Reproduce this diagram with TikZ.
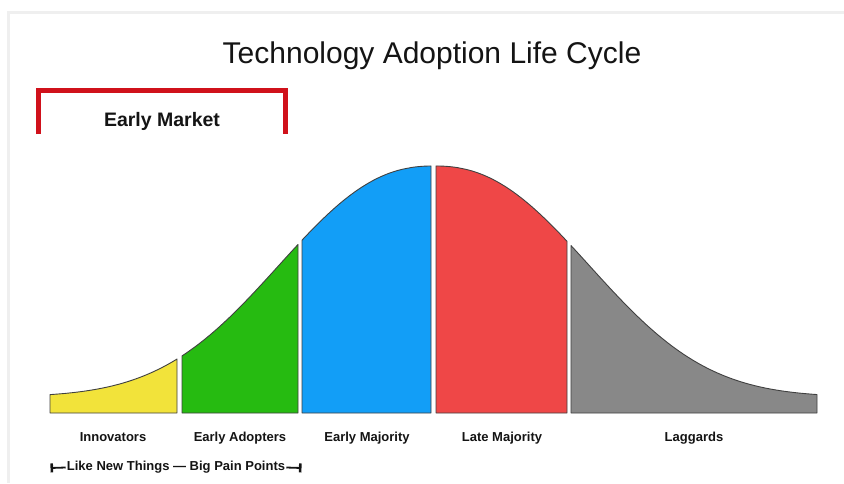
\documentclass[tikz,border=0pt]{standalone}
\usepackage{fontspec}
\setmainfont{Liberation Sans}
\usetikzlibrary{arrows.meta}
\definecolor{framegray}{RGB}{239,239,239}
\definecolor{bracketred}{RGB}{208,17,27}
\definecolor{innov}{RGB}{242,227,58}
\definecolor{adopt}{RGB}{38,187,17}
\definecolor{emaj}{RGB}{18,158,247}
\definecolor{lmaj}{RGB}{239,71,71}
\definecolor{lagg}{RGB}{136,136,136}
\definecolor{ink}{RGB}{20,20,20}
% bell curve, in page units (y grows downwards, baseline at 413)
\pgfmathdeclarefunction{bell}{1}{%
  \pgfmathparse{413-16-231*exp(-((abs(#1-434)/199+0.0001)^2.31))}}
\newcommand\bellseg[3]{%
  \draw[seg, fill=#3] (#1,413) -- plot[domain=#1:#2, samples=60, variable=\t] (\t,{bell(\t)}) -- (#2,413) -- cycle;}
\begin{document}
\begin{tikzpicture}[x=1pt,y=-1pt,
  seg/.style={draw=black!75, line width=0.9pt, line join=round},
  lbl/.style={font=\fontsize{13}{15}\selectfont\bfseries, text=ink, anchor=base},
  pointer/.style={line width=1.8pt, ink, {Bar[width=9pt,line width=2.6pt]}-},
]
\useasboundingbox (0,0) rectangle (844,483);
\fill[white] (0,0) rectangle (844,483);
\draw[line width=3pt, framegray] (8.5,483) -- (8.5,12.5) -- (844,12.5);

% title and early-market bracket
\node[font=\fontsize{30}{34}\selectfont, text=ink, anchor=base] (title) at (432,63) {Technology Adoption Life Cycle};
\draw[line width=5pt, bracketred, line join=miter] (38,134) -- (38,90) -- (285,90) -- (285,134);
\node[font=\fontsize{19.5}{23}\selectfont\bfseries, text=ink, anchor=base] (market) at (162,126) {Early Market};

% segments under the curve
\bellseg{50}{177}{innov}
\bellseg{182}{298}{adopt}
\bellseg{302}{431}{emaj}
\bellseg{436}{567}{lmaj}
\bellseg{571}{817}{lagg}

% group labels
\node[lbl] (innovators) at (113,441) {Innovators};
\node[lbl] (adopters) at (240,441) {Early Adopters};
\node[lbl] (earlymaj) at (367,441) {Early Majority};
\node[lbl] (latemaj) at (502,441) {Late Majority};
\node[lbl] (laggards) at (694,441) {Laggards};

% span note under the first two groups
\node[font=\fontsize{13}{15}\selectfont\bfseries, text=ink, inner sep=1pt] (note) at (176,467.5) {Like New Things — Big Pain Points};
\coordinate (noteL) at (50.5,468);
\coordinate (noteR) at (301.5,468);
\draw[pointer] (noteL) -- (note.west);
\draw[pointer] (noteR) -- (note.east);
\end{tikzpicture}
\end{document}
